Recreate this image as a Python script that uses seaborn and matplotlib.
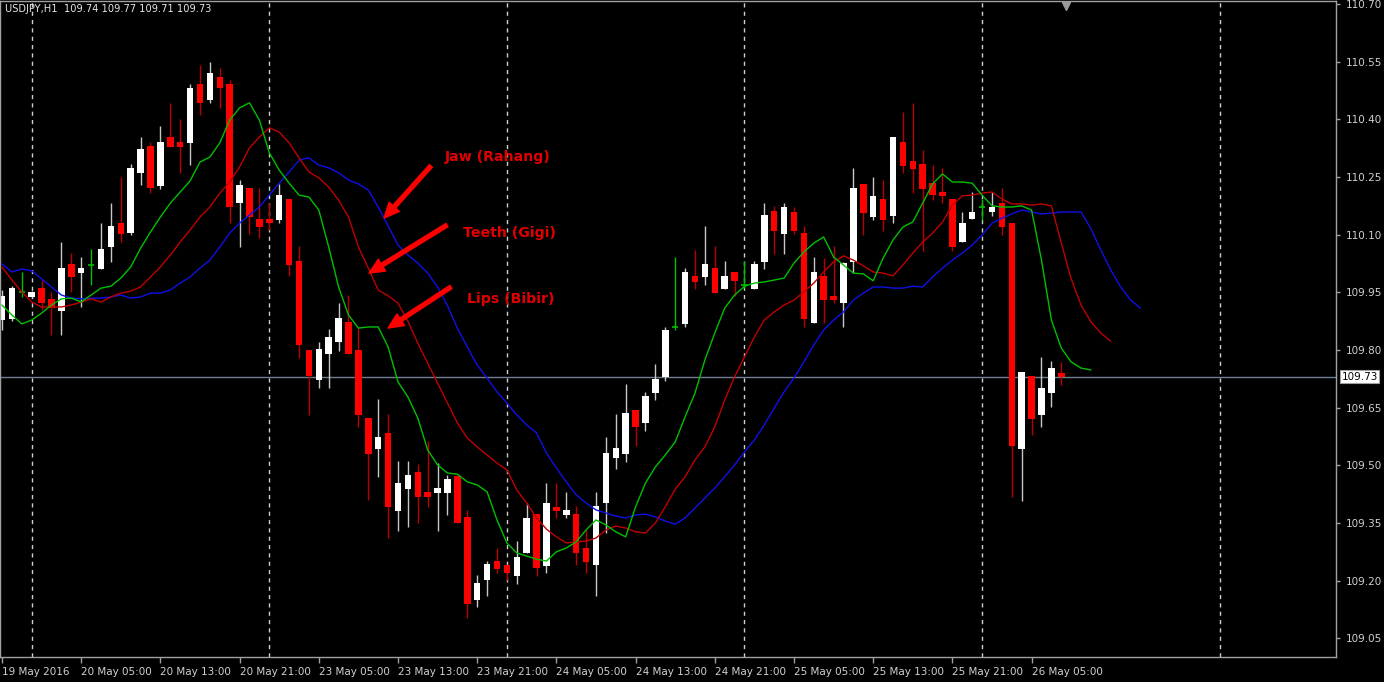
import matplotlib
matplotlib.use("Agg")
import matplotlib.pyplot as plt
import matplotlib.transforms as mtransforms
import numpy as np
import pandas as pd
import seaborn as sns

# ---------------- data (USDJPY H1, 19 May 2016 21:00 -> 26 May 2016 08:00) ----------------
opens = [109.878, 109.881, 109.951, 109.938, 109.961, 109.933, 109.901, 110.024, 110.000, 110.021,
         110.011, 110.068, 110.130, 110.104, 110.260, 110.331, 110.227, 110.354, 110.341, 110.339,
         110.492, 110.450, 110.510, 110.492, 110.182, 110.221, 110.141, 110.141, 110.138, 110.193,
         110.032, 109.800, 109.722, 109.789, 109.821, 109.873, 109.800, 109.623, 109.542, 109.584,
         109.381, 109.438, 109.483, 109.431, 109.428, 109.428, 109.472, 109.366, 109.150, 109.202,
         109.251, 109.241, 109.212, 109.272, 109.373, 109.238, 109.392, 109.371, 109.373, 109.285,
         109.241, 109.402, 109.519, 109.529, 109.644, 109.610, 109.688, 109.730, 109.860, 109.868,
         109.993, 109.990, 110.013, 109.959, 110.003, 109.969, 109.959, 110.029, 110.162, 110.102,
         110.159, 110.104, 109.870, 109.993, 109.940, 109.922, 110.029, 110.232, 110.146, 110.193,
         110.149, 110.341, 110.292, 110.284, 110.234, 110.211, 110.193, 110.081, 110.141, 110.172,
         110.159, 110.182, 110.130, 109.542, 109.732, 109.631, 109.688, 109.74]
highs = [109.956, 109.966, 110.003, 109.953, 109.982, 109.951, 110.081, 110.052, 110.042, 110.063,
         110.130, 110.182, 110.250, 110.284, 110.354, 110.341, 110.383, 110.443, 110.401, 110.492,
         110.541, 110.549, 110.534, 110.502, 110.242, 110.221, 110.221, 110.182, 110.232, 110.193,
         110.071, 109.800, 109.821, 109.855, 109.922, 109.943, 109.857, 109.623, 109.673, 109.633,
         109.511, 109.511, 109.503, 109.563, 109.506, 109.475, 109.475, 109.384, 109.215, 109.251,
         109.285, 109.241, 109.303, 109.402, 109.373, 109.454, 109.454, 109.431, 109.394, 109.332,
         109.431, 109.574, 109.633, 109.712, 109.644, 109.691, 109.764, 109.860, 110.042, 110.013,
         110.060, 110.123, 110.071, 110.032, 110.003, 110.032, 110.032, 110.182, 110.175, 110.182,
         110.172, 110.123, 110.042, 110.039, 110.071, 110.029, 110.273, 110.232, 110.250, 110.242,
         110.354, 110.419, 110.443, 110.320, 110.281, 110.273, 110.193, 110.159, 110.211, 110.193,
         110.211, 110.221, 110.130, 109.743, 109.732, 109.782, 109.771, 109.77]
lows = [109.852, 109.875, 109.938, 109.935, 109.904, 109.839, 109.839, 109.951, 109.912, 109.969,
        110.011, 110.029, 110.081, 110.099, 110.229, 110.208, 110.219, 110.328, 110.260, 110.281,
        110.411, 110.443, 110.430, 110.130, 110.068, 110.102, 110.091, 110.112, 110.130, 109.993,
        109.779, 109.631, 109.701, 109.701, 109.797, 109.789, 109.600, 109.410, 109.470, 109.311,
        109.329, 109.340, 109.350, 109.392, 109.329, 109.371, 109.350, 109.103, 109.131, 109.160,
        109.220, 109.202, 109.191, 109.272, 109.212, 109.220, 109.363, 109.363, 109.241, 109.220,
        109.160, 109.324, 109.490, 109.509, 109.550, 109.589, 109.670, 109.719, 109.852, 109.860,
        109.959, 109.969, 109.948, 109.959, 109.940, 109.961, 109.959, 110.011, 110.050, 110.050,
        110.102, 109.860, 109.870, 109.870, 109.922, 109.860, 110.000, 110.099, 110.138, 110.110,
        110.130, 110.260, 110.208, 110.058, 110.190, 110.182, 110.058, 110.081, 110.141, 110.138,
        110.149, 110.099, 109.418, 109.407, 109.579, 109.600, 109.652, 109.71]
closes = [109.940, 109.961, 109.951, 109.951, 109.922, 109.909, 110.013, 109.990, 110.013, 110.021,
          110.063, 110.123, 110.102, 110.273, 110.323, 110.221, 110.341, 110.328, 110.328, 110.482,
          110.443, 110.521, 110.482, 110.172, 110.229, 110.146, 110.120, 110.130, 110.203, 110.021,
          109.813, 109.732, 109.803, 109.834, 109.883, 109.789, 109.631, 109.529, 109.574, 109.392,
          109.454, 109.475, 109.418, 109.418, 109.441, 109.464, 109.350, 109.139, 109.194, 109.243,
          109.230, 109.220, 109.262, 109.363, 109.233, 109.402, 109.381, 109.384, 109.272, 109.248,
          109.394, 109.532, 109.545, 109.636, 109.600, 109.680, 109.725, 109.852, 109.860, 110.003,
          109.977, 110.024, 109.948, 109.993, 109.980, 109.969, 110.024, 110.151, 110.110, 110.172,
          110.110, 109.881, 110.003, 109.930, 109.930, 110.026, 110.221, 110.156, 110.201, 110.138,
          110.354, 110.279, 110.271, 110.219, 110.203, 110.201, 110.068, 110.130, 110.159, 110.172,
          110.172, 110.120, 109.550, 109.743, 109.620, 109.701, 109.753, 109.73]

# Alligator lines as displayed (already shifted forward: lips +3, teeth +5, jaw +8 bars)
lips = [109.917, 109.891, 109.868, 109.878, 109.896, 109.917, 109.933, 109.935, 109.925, 109.943,
        109.961, 109.966, 109.987, 110.016, 110.065, 110.107, 110.146, 110.182, 110.211, 110.240,
        110.289, 110.302, 110.339, 110.398, 110.430, 110.443, 110.398, 110.313, 110.268, 110.234,
        110.203, 110.198, 110.164, 110.068, 109.964, 109.891, 109.857, 109.860, 109.860, 109.808,
        109.717, 109.678, 109.623, 109.540, 109.501, 109.480, 109.477, 109.457, 109.449, 109.431,
        109.358, 109.298, 109.272, 109.264, 109.256, 109.251, 109.275, 109.285, 109.301, 109.332,
        109.358, 109.345, 109.327, 109.314, 109.392, 109.454, 109.496, 109.527, 109.561, 109.626,
        109.688, 109.774, 109.844, 109.909, 109.943, 109.966, 109.974, 109.977, 109.982, 109.987,
        110.026, 110.055, 110.078, 110.094, 110.042, 110.021, 110.000, 109.998, 109.980, 110.039,
        110.086, 110.120, 110.133, 110.182, 110.232, 110.258, 110.237, 110.237, 110.234, 110.203,
        110.175, 110.172, 110.172, 110.175, 110.164, 110.034, 109.878, 109.805, 109.769, 109.753,
        109.748]
teeth = [110.016, 109.982, 109.951, 109.925, 109.912, 109.912, 109.912, 109.917, 109.925, 109.933,
         109.925, 109.938, 109.948, 109.953, 109.964, 109.990, 110.016, 110.047, 110.081, 110.112,
         110.146, 110.172, 110.208, 110.237, 110.276, 110.326, 110.354, 110.378, 110.367, 110.339,
         110.300, 110.263, 110.248, 110.224, 110.190, 110.146, 110.068, 110.013, 109.956, 109.941,
         109.922, 109.875, 109.818, 109.766, 109.714, 109.662, 109.610, 109.571, 109.548, 109.527,
         109.506, 109.488, 109.436, 109.402, 109.363, 109.334, 109.314, 109.298, 109.301, 109.303,
         109.311, 109.332, 109.342, 109.337, 109.327, 109.324, 109.350, 109.392, 109.438, 109.470,
         109.514, 109.548, 109.600, 109.670, 109.730, 109.782, 109.834, 109.878, 109.899, 109.917,
         109.930, 109.951, 109.974, 110.003, 110.029, 110.045, 110.034, 110.019, 110.003, 110.000,
         109.993, 110.021, 110.052, 110.081, 110.104, 110.133, 110.177, 110.201, 110.203, 110.208,
         110.211, 110.193, 110.180, 110.180, 110.177, 110.180, 110.175, 110.078, 109.985, 109.917,
         109.873, 109.844, 109.823]
jaw = [110.024, 110.003, 110.011, 110.006, 109.985, 109.964, 109.943, 109.935, 109.933, 109.935,
       109.935, 109.938, 109.943, 109.935, 109.938, 109.948, 109.948, 109.956, 109.974, 109.990,
       110.013, 110.034, 110.068, 110.104, 110.130, 110.151, 110.172, 110.203, 110.234, 110.263,
       110.294, 110.300, 110.281, 110.274, 110.261, 110.242, 110.232, 110.216, 110.172, 110.123,
       110.073, 110.047, 110.026, 110.000, 109.964, 109.915, 109.857, 109.808, 109.761, 109.727,
       109.691, 109.662, 109.631, 109.605, 109.584, 109.532, 109.493, 109.457, 109.423, 109.402,
       109.384, 109.376, 109.368, 109.363, 109.371, 109.373, 109.366, 109.355, 109.347, 109.363,
       109.389, 109.415, 109.441, 109.470, 109.501, 109.535, 109.566, 109.605, 109.649, 109.691,
       109.727, 109.769, 109.813, 109.852, 109.878, 109.899, 109.930, 109.948, 109.964, 109.964,
       109.961, 109.961, 109.966, 109.964, 109.990, 110.013, 110.034, 110.052, 110.073, 110.099,
       110.130, 110.143, 110.154, 110.164, 110.159, 110.154, 110.156, 110.159, 110.159, 110.159,
       110.115, 110.060, 110.008, 109.964, 109.930, 109.909]

time_ticks = [0, 8, 16, 24, 32, 40, 48, 56, 64, 72, 80, 88, 96, 104]
time_labels = ["19 May 2016", "20 May 05:00", "20 May 13:00", "20 May 21:00", "23 May 05:00",
               "23 May 13:00", "23 May 21:00", "24 May 05:00", "24 May 13:00", "24 May 21:00",
               "25 May 05:00", "25 May 13:00", "25 May 21:00", "26 May 05:00"]
day_starts = [3, 27, 51, 75, 99, 123]
price_ticks = [109.05, 109.20, 109.35, 109.50, 109.65, 109.80, 109.95, 110.10, 110.25, 110.40, 110.55, 110.70]
symbol = "USDJPY,H1"
notes = ["Jaw (Rahang)", "Teeth (Gigi)", "Lips (Bibir)"]

# ---------------- style ----------------
sns.set_theme(style="dark", rc={"axes.facecolor": "black", "figure.facecolor": "black"})
plt.rcParams["font.family"] = ["DejaVu Sans"]

W, H = 1384, 682
fig = plt.figure(figsize=(W / 100, H / 100), dpi=100)
fig.patch.set_facecolor("black")
ax = fig.add_axes([0.0, 25 / H, 1336 / W, 656 / H])
ax.set_facecolor("black")

n = len(opens)
idx = np.arange(n)
df = pd.DataFrame({"i": idx, "o": opens, "h": highs, "l": lows, "c": closes})

# day separators
for d in day_starts:
    ax.axvline(d, color="#cfcfcf", lw=1.0, ls=(0, (3, 3)), zorder=1)

# current price line
last_close = closes[-1]
ax.axhline(last_close, color="#6f7f8f", lw=1.0, zorder=1)

# candles
body_w = 0.66
bull = df[df.c > df.o]
bear = df[df.c < df.o]
doji = df[df.c == df.o]

ax.vlines(bull.i, bull.l, bull.h, color="#c8c8c8", lw=1.0, zorder=2)
ax.vlines(bear.i, bear.l, bear.h, color="#b80000", lw=1.0, zorder=2)
ax.vlines(doji.i, doji.l, doji.h, color="#00c000", lw=1.0, zorder=2)

minh = 0.002
ax.bar(bull.i, np.maximum(bull.c - bull.o, minh), bottom=bull.o, width=body_w,
       color="white", edgecolor="none", zorder=2.5)
ax.bar(bear.i, np.maximum(bear.o - bear.c, minh), bottom=bear.c, width=body_w,
       color="#ff0000", edgecolor="none", zorder=2.5)
ax.hlines(doji.o, doji.i - body_w / 2, doji.i + body_w / 2, color="#00c000", lw=1.2, zorder=2.5)

# alligator lines
sns.lineplot(x=np.arange(len(jaw)), y=jaw, color="#1010e8", lw=1.0, ax=ax, zorder=3,
             estimator=None, sort=False)
sns.lineplot(x=np.arange(len(teeth)), y=teeth, color="#c00000", lw=1.0, ax=ax, zorder=3.1,
             estimator=None, sort=False)
sns.lineplot(x=np.arange(len(lips)), y=lips, color="#00c000", lw=1.0, ax=ax, zorder=3.2,
             estimator=None, sort=False)

# axes limits (pixel mapping of reference)
ax.set_xlim(-0.202, 134.75)
ax.set_ylim(109.0014, 110.7079)
ax.set_xlabel("")
ax.set_ylabel("")

for s in ax.spines.values():
    s.set_color("#a0a0a0")
    s.set_linewidth(1.0)

ax.set_xticks(time_ticks)
ax.set_xticklabels(time_labels, ha="left")
ax.yaxis.tick_right()
ax.set_yticks(price_ticks)
ax.set_yticklabels([f"{p:.2f}" for p in price_ticks])
ax.tick_params(axis="x", colors="#a0a0a0", labelcolor="#d0d0d0", length=4, width=1,
               direction="out", pad=3, labelsize=7.5, bottom=True)
ax.tick_params(axis="y", colors="#a0a0a0", labelcolor="#d0d0d0", length=3, width=1,
               direction="out", pad=4, labelsize=7.5, right=True, left=False)
ax.grid(False)

# current price box
ax.annotate(f"{last_close:.2f}", xy=(1.0, last_close), xycoords=("axes fraction", "data"),
            xytext=(4, 0), textcoords="offset points", ha="left", va="center",
            fontsize=7.5, color="black",
            bbox=dict(boxstyle="square,pad=0.15", fc="white", ec="#a0a0a0", lw=0.8),
            annotation_clip=False)

# header
fig.text(5 / W, 1 - 9 / H,
         f"{symbol}  {opens[-1]:.2f} {highs[-1]:.2f} {lows[-1]:.2f} {closes[-1]:.2f}",
         color="#e6e6e6", fontsize=7.1, ha="left", va="center")

# chart shift marker
trans = mtransforms.blended_transform_factory(ax.transData, ax.transAxes)
ax.plot([n - 0.5], [0.993], marker="v", color="#9a9a9a", markersize=6, transform=trans,
        clip_on=False, zorder=5)

# annotations: text positions (index, price) and arrows (tail -> tip)
text_pos = [(44.7, 110.302), (46.6, 110.104), (47.0, 109.933)]
arrow_tail = [(43.33, 110.279), (44.95, 110.125), (45.35, 109.964)]
arrow_tip = [(38.59, 110.143), (37.07, 110.000), (38.99, 109.857)]
for t, (tx, ty), tail, tip in zip(notes, text_pos, arrow_tail, arrow_tip):
    ax.text(tx, ty, t, color="#e00000", fontsize=10.2, fontweight="bold",
            ha="left", va="center", zorder=6)
    ax.annotate("", xy=tip, xytext=tail,
                arrowprops=dict(facecolor="#ff0000", edgecolor="#ff0000", width=2.8,
                                headwidth=10, headlength=11, shrink=0),
                zorder=6)

fig.savefig("out.png", dpi=100, facecolor="black")
